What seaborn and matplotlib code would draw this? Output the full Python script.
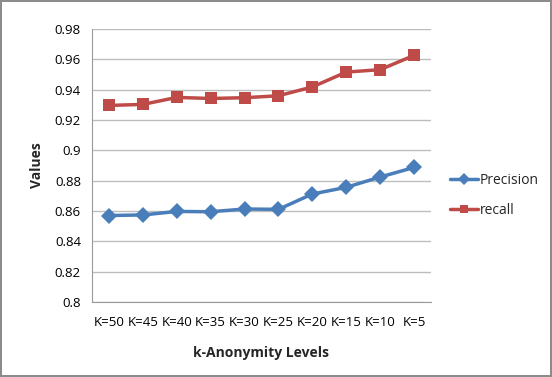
import seaborn as sns
import matplotlib.pyplot as plt
import pandas as pd

# values
levels = ['K=50', 'K=45', 'K=40', 'K=35', 'K=30', 'K=25', 'K=20', 'K=15', 'K=10', 'K=5']
precision = [0.857, 0.8574, 0.8597, 0.8595, 0.8613, 0.8611, 0.8712, 0.8756, 0.8824, 0.8887]
recall = [0.9296, 0.9303, 0.9349, 0.9342, 0.9347, 0.936, 0.9418, 0.9516, 0.9532, 0.9626]

df = pd.DataFrame({
    'level': levels * 2,
    'value': precision + recall,
    'series': ['Precision'] * len(levels) + ['recall'] * len(levels),
})

sns.set_style('white')
plt.rcParams['font.family'] = ['Open Sans', 'DejaVu Sans']

fig = plt.figure(figsize=(5.52, 3.77), dpi=100)
fig.patch.set_edgecolor('#8c8c8c')
fig.patch.set_linewidth(1.5)
ax = fig.add_axes([0.1667, 0.199, 0.614, 0.724])

palette = {'Precision': '#4a7ebb', 'recall': '#be4b48'}
markers = {'Precision': 'D', 'recall': 's'}
sns.lineplot(data=df, x='level', y='value', hue='series', style='series',
             palette=palette, markers=markers, dashes=False, sort=False,
             linewidth=2.5, markersize=8, markeredgewidth=0, ax=ax)

ax.set_ylim(0.8, 0.98)
ax.set_yticks([0.8, 0.82, 0.84, 0.86, 0.88, 0.9, 0.92, 0.94, 0.96, 0.98])
ax.set_yticklabels(['0.8', '0.82', '0.84', '0.86', '0.88', '0.9', '0.92', '0.94', '0.96', '0.98'])
ax.set_xlim(-0.5, len(levels) - 0.5)
ax.yaxis.grid(True, color='#bdbdbd', linewidth=1)
ax.set_axisbelow(True)
for s in ['top', 'right']:
    ax.spines[s].set_visible(False)
ax.spines['left'].set_color('#9a9a9a')
ax.spines['bottom'].set_color('#9a9a9a')
ax.tick_params(axis='both', length=0, labelsize=9.5, colors='black', pad=8)
ax.tick_params(axis='x', pad=10)

ax.set_xlabel('k-Anonymity Levels', fontsize=10, fontweight='bold', labelpad=12)
ax.set_ylabel('Values', fontsize=10, fontweight='bold', labelpad=8)

leg = ax.legend(title=None, frameon=False, loc='center left', bbox_to_anchor=(1.02, 0.39),
                fontsize=10, handlelength=2.0, handletextpad=0.1, labelspacing=1.1)
for h in leg.legend_handles:
    h.set_markersize(6)

fig.savefig('out.png', dpi=100, edgecolor=fig.get_edgecolor())
